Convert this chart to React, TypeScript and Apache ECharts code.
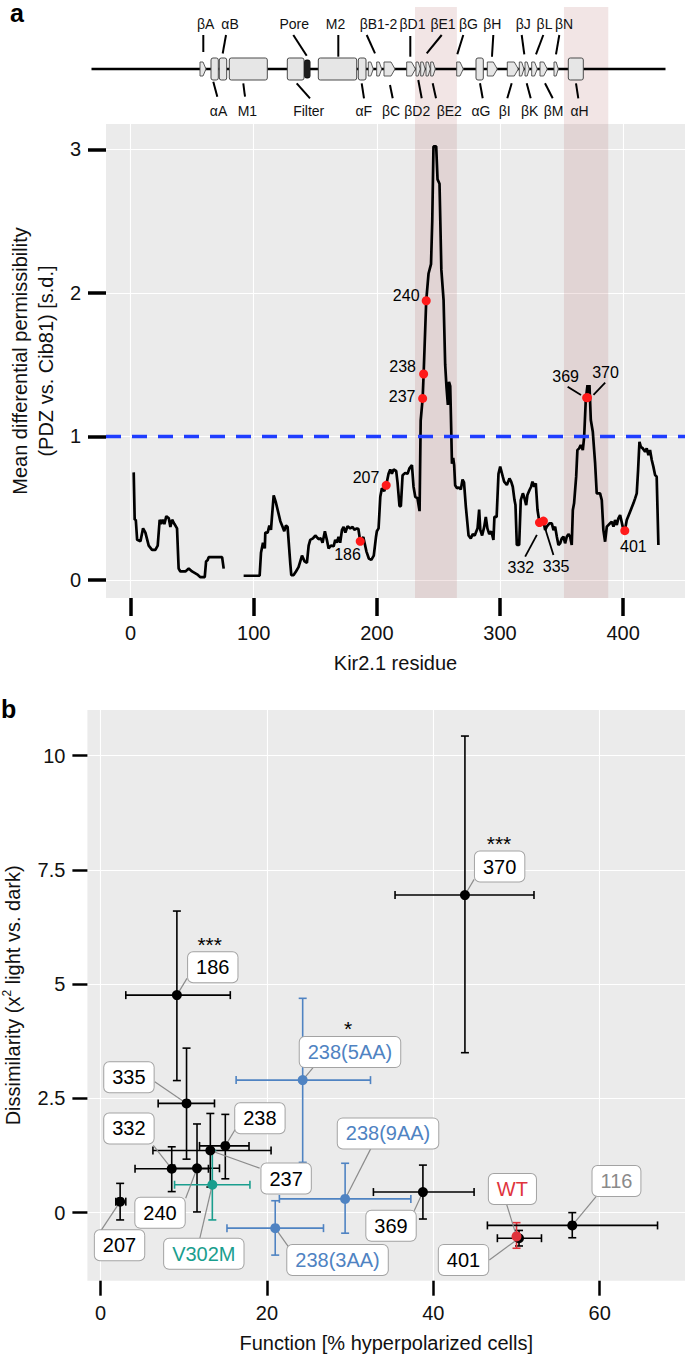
import React, { useEffect, useRef } from "react";
import * as echarts from "echarts";

const FONT = "'Liberation Sans', Arial, Helvetica, sans-serif";

// ---------------- Panel a data ----------------
// mean differential permissibility along Kir2.1 (residue, value), two contiguous stretches
const profileSeg1: number[][] = [
  [2.5, 0.75], [3.3, 0.42], [4.2, 0.42], [5.3, 0.28], [8, 0.27], [10.1, 0.36], [12, 0.33], [14.7, 0.24],
  [17.4, 0.21], [20.1, 0.21], [22, 0.24], [23.6, 0.42], [24.7, 0.39], [26, 0.42], [27.4, 0.39], [29, 0.445],
  [31, 0.43], [32.3, 0.37], [33.7, 0.42], [35.6, 0.39], [37.7, 0.36], [39, 0.08], [40.4, 0.06], [44.5, 0.06],
  [47.2, 0.08], [49.9, 0.06], [54, 0.04], [56.7, 0.02], [60.2, 0.02], [61.3, 0.13], [62.6, 0.14], [63.4, 0.16],
  [74.3, 0.16], [75.6, 0.08],
];
const profileSeg2: number[][] = [
  [91.8, 0.03], [104.8, 0.03], [105.9, 0.19], [107.5, 0.26], [109, 0.22], [109.4, 0.33], [111.3, 0.33],
  [112.7, 0.38], [114, 0.35], [114.8, 0.44], [116.2, 0.59], [118, 0.54], [119.4, 0.49], [121.6, 0.41],
  [123.5, 0.37], [124.8, 0.34], [126.2, 0.38], [127.5, 0.37], [129.7, 0.115], [130.5, 0.035], [132.4, 0.035],
  [134.3, 0.06], [136.4, 0.09], [139.2, 0.17], [141.3, 0.13], [143.2, 0.12], [144.6, 0.24], [145.9, 0.28],
  [148.1, 0.29], [150, 0.31], [152.7, 0.285], [154.6, 0.29], [155.9, 0.26], [157.8, 0.34], [159.4, 0.28],
  [160.8, 0.22], [162.7, 0.24], [164.9, 0.235], [166.2, 0.28], [167.5, 0.26], [168.9, 0.3], [170.2, 0.26],
  [171.7, 0.35], [173, 0.37], [174.4, 0.33], [176.2, 0.375], [178.4, 0.36], [180.3, 0.37], [181.7, 0.35],
  [183.8, 0.36], [185, 0.355], [186.5, 0.27], [189, 0.3], [191.5, 0.2], [193.5, 0.15], [195.5, 0.14],
  [197.5, 0.17], [199.3, 0.3], [200, 0.34], [201.4, 0.36], [202.8, 0.58], [204.1, 0.64], [206, 0.62],
  [207.6, 0.66], [209.5, 0.74], [210.9, 0.77], [212.2, 0.74], [213.6, 0.77], [215.7, 0.76], [216.8, 0.68],
  [218.4, 0.515], [219.5, 0.515], [220.9, 0.73], [223, 0.745], [224.9, 0.74], [226.6, 0.78], [228.5, 0.8],
  [229.8, 0.65], [231.2, 0.58], [233, 0.57], [234.7, 0.48], [235.6, 1.11], [237.2, 1.265], [238, 1.435],
  [240.1, 1.945], [242, 2.135], [244, 2.2], [245, 2.5], [246, 3.02], [248.2, 3.02], [249.3, 2.79],
  [250.9, 2.76], [252.4, 2.16], [254.2, 1.95], [255.5, 1.5], [256.6, 1.34], [257.7, 1.22], [258.6, 1.38],
  [259.6, 1.35], [260.4, 1.05], [261, 0.81], [262, 0.85], [262.8, 0.8], [263.6, 0.66], [265, 0.64],
  [267, 0.645], [268.2, 0.63], [269.6, 0.7], [270.8, 0.68], [272.3, 0.51], [274.5, 0.31], [276.3, 0.29],
  [277.9, 0.32], [279.5, 0.31], [281.8, 0.36], [283.1, 0.49], [284, 0.35], [285.5, 0.31], [287.2, 0.37],
  [288.5, 0.44], [289.8, 0.36], [291.3, 0.32], [293, 0.34], [294.7, 0.28], [295.5, 0.44], [297.3, 0.44],
  [298.8, 0.74], [300.2, 0.79], [302.3, 0.72], [303.4, 0.685], [305.6, 0.662], [307.7, 0.708], [309.1, 0.685],
  [310.4, 0.65], [311.8, 0.557], [312.6, 0.522], [313.7, 0.244], [315.6, 0.244], [316.9, 0.557], [318.6, 0.604],
  [319.6, 0.58], [321.3, 0.522], [322.3, 0.592], [324, 0.627], [325.3, 0.65], [326.4, 0.685], [327.8, 0.65],
  [329.1, 0.673], [330.5, 0.488], [332.1, 0.4], [334, 0.418], [335.3, 0.411], [336.7, 0.348], [338, 0.372],
  [340.2, 0.395], [342.1, 0.395], [343.5, 0.348], [344.8, 0.372], [346.2, 0.302], [347.5, 0.244], [348.9, 0.256],
  [350.2, 0.29], [351.6, 0.302], [352.9, 0.256], [354.3, 0.302], [355.6, 0.32], [357, 0.302], [358.3, 0.244],
  [359.2, 0.488], [360.2, 0.534], [361.9, 0.72], [362.9, 0.905], [364.3, 0.917], [365.6, 0.94], [367.3, 0.905],
  [368.4, 0.998], [369.7, 1.254], [371.1, 1.358], [371.9, 1.3], [372.7, 1.358], [373.8, 1.114], [375.4, 1.033],
  [376.5, 0.905], [377.3, 0.812], [378.6, 0.604], [381.3, 0.604], [382.7, 0.557], [384, 0.348], [385.4, 0.267],
  [386.8, 0.372], [389.5, 0.395], [390.8, 0.406], [392.2, 0.372], [393.5, 0.418], [394.9, 0.383], [396.2, 0.43],
  [397.6, 0.453], [399.7, 0.372], [401.4, 0.344], [403, 0.418], [405.7, 0.476], [408.4, 0.534], [409.8, 0.569],
  [411.1, 0.604], [412.2, 0.766], [413.3, 0.963], [414.4, 0.929], [416, 0.917], [417.9, 0.894], [419.2, 0.917],
  [420.6, 0.87], [421.9, 0.905], [423.3, 0.836], [424.6, 0.79], [426, 0.731], [427.3, 0.72], [428.7, 0.244],
];
const hotspotNames = ["186", "207", "237", "238", "240", "332", "335", "369", "370", "401"];
const hotspotX = [186.5, 207.6, 237.2, 238, 240.1, 332.1, 335.3, 370.4, 371.1, 401.4];
const hotspotY = [0.27, 0.66, 1.265, 1.435, 1.945, 0.4, 0.411, 1.27, 1.27, 0.344];
const shadedRanges = [[231, 265], [352, 388]];
const thresholdValue = 1;
const residueTicks = [0, 100, 200, 300, 400];
const permTicks = [0, 1, 2, 3];

// ---------------- Panel b data ----------------
const mutantNames = ["370", "186", "238(5AA)", "335", "238", "237", "332", "240", "V302M", "207", "238(3AA)", "238(9AA)", "369", "401", "WT", "116"];
const funcMean = [43.8, 9.18, 24.3, 10.34, 15.0, 13.2, 8.56, 11.6, 13.44, 2.36, 21.0, 29.4, 38.75, 50.3, 50.0, 56.7];
const funcLo = [35.4, 3.04, 16.3, 6.93, 11.9, 6.3, 4.15, 8.9, 8.9, 1.84, 15.2, 21.5, 32.8, 47.7, 50.0, 46.5];
const funcHi = [52.1, 15.6, 32.45, 13.7, 17.85, 20.5, 12.97, 14.3, 17.96, 3.04, 26.8, 37.3, 44.9, 53.0, 50.0, 66.95];
const dissMean = [6.95, 4.76, 2.9, 2.39, 1.46, 1.36, 0.96, 0.97, 0.61, 0.24, -0.34, 0.3, 0.45, -0.56, -0.52, -0.28];
const dissLo = [3.5, 2.89, 1.1, 1.17, 0.74, 0.56, 0.46, 0.015, -0.16, -0.16, -0.93, -0.45, -0.14, -0.73, -0.78, -0.55];
const dissHi = [10.43, 6.6, 4.69, 3.6, 2.15, 2.17, 1.44, 1.94, 1.36, 0.64, 0.26, 1.08, 1.04, -0.39, -0.22, 0.0];
// 0 black, 1 blue (238 variants), 2 teal (V302M), 3 red (WT)
const mutantGroup = [0, 0, 1, 0, 0, 0, 0, 0, 2, 0, 1, 1, 0, 0, 3, 0];
const significance = ["***", "***", "*", "", "", "", "", "", "", "", "", "", "", "", "", ""];
const functionTicks = [0, 20, 40, 60];
const dissTicks = [0, 2.5, 5, 7.5, 10];

// ---------------- styling / layout ----------------
const GROUP_COLORS = ["#000000", "#4f83c2", "#1a9e8e", "#e0343c"];
const SHADE = "rgba(185, 110, 110, 0.18)";
const GRID_A = { left: 106, top: 124, width: 579, height: 474 };
const GRID_B = { left: 87.4, top: 710, width: 597.6, height: 570.7 };

// label centre offsets (px) from each mark
const hotspotLabelOffset: number[][] = [
  [-12.7, 13.3], [-20.2, -8.2], [-20.5, -1.5], [-21, -7], [-20, -5],
  [-18.6, 44.6], [12.7, 45], [-21, -21], [18, -25], [8.6, 16],
];
// leader segments (px offsets from the mark: start dx, dy, end dx, dy); zero length = none
const hotspotLeader: number[][] = [
  [0, 0, 0, 0], [0, 0, 0, 0], [0, 0, 0, 0], [0, 0, 0, 0], [0, 0, 0, 0],
  [-2.6, 12.3, -14.3, 34], [1.7, 7.3, 10, 34], [-5.6, -2.7, -19, -11], [6, -2.7, 17.7, -15], [0, 0, 0, 0],
];
const mutantLabelOffset: number[][] = [
  [34.7, -28.5], [35.9, -27.8], [47.3, -28], [-57.6, -26.1], [34.6, -27.7], [75.8, 28.1], [-42.8, -40.3],
  [-37, 44.5], [-8.5, 69], [-0.6, 43.6], [62.3, 31.9], [42.9, -65.5], [-31.9, 33.7], [-55.5, 21.7],
  [-4.1, -47.4], [44.2, -44.5],
];
const mutantLeaderEnd: number[][] = [
  [9.2, -15.7], [10.1, -16.7], [11, -13.3], [-31.8, -21.6], [10, -16.7], [49.3, 17.6], [-18.4, -23.3],
  [-11.3, 30], [-12.7, 54.3], [-18.7, 28.3], [13.1, 18.4], [26.2, -51.3], [-8.7, 18.7], [-29.7, 21.7],
  [-10, -32.4], [24, -29],
];
const starOffset: Record<string, number[]> = { "370": [34.1, -52], "186": [32.8, -51], "238(5AA)": [45.5, -51.5] };

// domain schematic (pixel layout of the cartoon)
const helices: number[][] = [
  [211, 218.3], [219.3, 226.7], [229.3, 267.3], [287.3, 304], [318.3, 356.7], [358.3, 366], [476, 483.3], [568.3, 583.3],
];
const strands: number[][] = [
  [200, 206], [368.3, 373.3], [376.7, 381.7], [384, 395], [406.7, 415.5], [416, 420.3], [420.7, 425.2], [426, 430.3],
  [430.7, 435.3], [456.7, 463.3], [487.3, 497.3], [507.3, 518.3], [519.3, 524], [525, 529.3], [531.7, 537.3],
  [540, 547.3], [554, 558.3],
];
const topLabels: [string, number, number, number, number, number][] = [
  ["βA", 205.6, 203.3, 35, 203.3, 52], ["αB", 230, 226, 35, 222.7, 53.5], ["Pore", 294.3, 293.3, 35, 306.7, 55.7],
  ["M2", 335.6, 338.3, 35, 338.3, 56.7], ["βB1-2", 378.5, 366.7, 35, 375, 53.3], ["βD1", 412.5, 410.3, 36, 410.3, 56.7],
  ["βE1", 443, 441.7, 35, 426.7, 53.3], ["βG", 468.5, 463.3, 35, 457.3, 54.3], ["βH", 492.3, 493.3, 35, 492, 56.7],
  ["βJ", 523.3, 521.7, 35, 524.3, 54.3], ["βL", 544.5, 543.3, 35, 536, 54.3], ["βN", 564, 559.3, 35, 556, 54.3],
];
const bottomLabels: [string, number, number, number, number, number][] = [
  ["αA", 218.5, 213.3, 81.7, 217.3, 96.7], ["M1", 247.4, 243.3, 83.3, 245, 96.7], ["Filter", 308.7, 296.7, 83.3, 310, 98.3],
  ["αF", 363.8, 361.7, 83.3, 364, 98.3], ["βC", 391, 390, 85, 392.7, 98.3], ["βD2", 417.3, 418.3, 80, 421.7, 98.3],
  ["βE2", 449.3, 432.7, 83.3, 436, 98.3], ["αG", 481, 480, 83.3, 482.7, 98.3], ["βI", 504.8, 511.7, 83.3, 507.3, 98.3],
  ["βK", 529.6, 526.7, 83.3, 530.7, 98.3], ["βM", 553.6, 545, 83.3, 552.7, 98.3], ["αH", 579.6, 576, 83.3, 578.3, 98.3],
];

function labelColor(i: number) {
  if (mutantNames[i] === "116") return "#8a8a8a";
  return GROUP_COLORS[mutantGroup[i]];
}

function leaderRender(color: string, width: number) {
  return (params: any, api: any) => {
    const p = api.coord([api.value(0), api.value(1)]);
    const sx = api.value(2), sy = api.value(3), ex = api.value(4), ey = api.value(5);
    if (sx === ex && sy === ey) return { type: "group", children: [] };
    return {
      type: "line",
      shape: { x1: p[0] + sx, y1: p[1] + sy, x2: p[0] + ex, y2: p[1] + ey },
      style: { stroke: color, lineWidth: width },
    };
  };
}

function buildOption(): any {
  const tickText = { fontSize: 20, color: "#111", fontFamily: FONT };
  return {
    animation: false,
    backgroundColor: "#ffffff",
    textStyle: { fontFamily: FONT },
    grid: [
      { ...GRID_A, show: true, backgroundColor: "#EBEBEB", borderWidth: 0, containLabel: false, outerBoundsMode: "none" },
      { ...GRID_B, show: true, backgroundColor: "#EBEBEB", borderWidth: 0, containLabel: false, outerBoundsMode: "none" },
    ],
    xAxis: [
      {
        gridIndex: 0, type: "value", min: -20, max: 450.3, interval: 50,
        axisLine: { show: false, onZero: false },
        axisTick: { show: true, customValues: residueTicks, length: 18, lineStyle: { color: "#000", width: 3.5 } },
        axisLabel: { ...tickText, customValues: residueTicks, margin: 25 },
        splitLine: { show: true, lineStyle: { color: "#ffffff", width: 1.1 } },
        name: "Kir2.1 residue", nameLocation: "middle", nameGap: 55,
        nameTextStyle: { fontSize: 20, color: "#111", fontFamily: FONT },
      },
      {
        gridIndex: 1, type: "value", min: -1.575, max: 70.25, interval: 10,
        axisLine: { show: false, onZero: false },
        axisTick: { show: true, customValues: functionTicks, length: 15, lineStyle: { color: "#000", width: 2.5 } },
        axisLabel: { ...tickText, customValues: functionTicks, margin: 22 },
        splitLine: { show: true, lineStyle: { color: "#ffffff", width: 1.1 } },
        name: "Function [% hyperpolarized cells]", nameLocation: "middle", nameGap: 52,
        nameTextStyle: { fontSize: 20, color: "#111", fontFamily: FONT },
      },
    ],
    yAxis: [
      {
        gridIndex: 0, type: "value", min: -0.125, max: 3.176, interval: 0.5,
        axisLine: { show: false, onZero: false },
        axisTick: { show: true, customValues: permTicks, length: 18, lineStyle: { color: "#000", width: 3.5 } },
        axisLabel: { ...tickText, customValues: permTicks, margin: 25 },
        splitLine: { show: true, lineStyle: { color: "#ffffff", width: 1.1 } },
        name: "Mean differential permissibility\n(PDZ vs. Cib81) [s.d.]",
        nameLocation: "middle", nameGap: 47, nameRotate: 90,
        nameTextStyle: { fontSize: 20, lineHeight: 26, color: "#111", fontFamily: FONT, align: "center" },
      },
      {
        gridIndex: 1, type: "value", min: -1.49, max: 11.0, interval: 1.25,
        axisLine: { show: false, onZero: false },
        axisTick: { show: true, customValues: dissTicks, length: 15, lineStyle: { color: "#000", width: 2.5 } },
        axisLabel: { ...tickText, customValues: dissTicks, margin: 22 },
        splitLine: { show: true, lineStyle: { color: "#ffffff", width: 1.1 } },
        name: "{n|Dissimilarity (x}{s|2}{n| light vs. dark)}",
        nameLocation: "middle", nameGap: 62, nameRotate: 90,
        nameTextStyle: {
          fontFamily: FONT, color: "#111",
          rich: {
            n: { fontSize: 20, lineHeight: 24, color: "#111", fontFamily: FONT },
            s: { fontSize: 12, lineHeight: 24, verticalAlign: "top", color: "#111", fontFamily: FONT, padding: [0, 0, 8, 0] },
          },
        },
      },
    ],
    series: [
      {
        name: "profile-1", type: "line", xAxisIndex: 0, yAxisIndex: 0, data: profileSeg1,
        symbol: "none", showSymbol: false, z: 3,
        lineStyle: { color: "#000", width: 2.7 },
        markArea: {
          silent: true,
          itemStyle: { color: SHADE },
          data: shadedRanges.map(([a, b]) => [{ xAxis: a }, { xAxis: b }]),
        },
      },
      {
        name: "profile-2", type: "line", xAxisIndex: 0, yAxisIndex: 0, data: profileSeg2,
        symbol: "none", showSymbol: false, z: 3,
        lineStyle: { color: "#000", width: 2.7 },
        markLine: {
          silent: true, symbol: ["none", "none"], label: { show: false },
          lineStyle: { color: "#1f3dff", width: 3.3, type: [15, 11] },
          data: [{ yAxis: thresholdValue }],
        },
      },
      {
        name: "hotspot-leaders", type: "custom", xAxisIndex: 0, yAxisIndex: 0, z: 4, silent: true,
        data: hotspotNames.map((n, i) => [hotspotX[i], hotspotY[i], ...hotspotLeader[i]]),
        encode: { x: 0, y: 1 },
        renderItem: leaderRender("#000", 1.8),
      },
      {
        name: "hotspots", type: "scatter", xAxisIndex: 0, yAxisIndex: 0, z: 5,
        symbolSize: 9, itemStyle: { color: "#ff1a1a", opacity: 1 },
        data: hotspotNames.map((n, i) => ({ name: n, value: [hotspotX[i], hotspotY[i]] })),
        label: { show: true, position: "inside", formatter: "{b}", fontSize: 16, color: "#000", fontFamily: FONT, textBorderWidth: 0 },
        labelLayout: (p: any) => ({ dx: hotspotLabelOffset[p.dataIndex][0], dy: hotspotLabelOffset[p.dataIndex][1] }),
      },
      {
        name: "errorbars", type: "custom", xAxisIndex: 1, yAxisIndex: 1, z: 2,
        data: mutantNames.map((n, i) => [funcMean[i], dissMean[i], funcLo[i], funcHi[i], dissLo[i], dissHi[i], mutantGroup[i]]),
        encode: { x: 0, y: 1 },
        renderItem: (params: any, api: any) => {
          const x = api.value(0), y = api.value(1);
          const xl = api.value(2), xh = api.value(3), yl = api.value(4), yh = api.value(5);
          const color = GROUP_COLORS[api.value(6)];
          const st = { stroke: color, lineWidth: 1.6 };
          const c = 4;
          const L = (a: number[], b: number[]) => ({ type: "line", shape: { x1: a[0], y1: a[1], x2: b[0], y2: b[1] }, style: st });
          const kids: any[] = [];
          if (xh > xl) {
            const a = api.coord([xl, y]);
            const b = api.coord([xh, y]);
            kids.push(L(a, b), L([a[0], a[1] - c], [a[0], a[1] + c]), L([b[0], b[1] - c], [b[0], b[1] + c]));
          }
          if (yh > yl) {
            const a = api.coord([x, yl]);
            const b = api.coord([x, yh]);
            kids.push(L(a, b), L([a[0] - c, a[1]], [a[0] + c, a[1]]), L([b[0] - c, b[1]], [b[0] + c, b[1]]));
          }
          return { type: "group", children: kids };
        },
      },
      {
        name: "mutant-leaders", type: "custom", xAxisIndex: 1, yAxisIndex: 1, z: 3, silent: true,
        data: mutantNames.map((n, i) => [funcMean[i], dissMean[i], 0, 0, mutantLeaderEnd[i][0], mutantLeaderEnd[i][1]]),
        encode: { x: 0, y: 1 },
        renderItem: leaderRender("#8c8c8c", 1.2),
      },
      {
        name: "mutants", type: "scatter", xAxisIndex: 1, yAxisIndex: 1, z: 4,
        symbolSize: 10,
        data: mutantNames.map((n, i) => ({
          name: n, value: [funcMean[i], dissMean[i]],
          itemStyle: { color: GROUP_COLORS[mutantGroup[i]], opacity: 1 },
          label: { color: labelColor(i) },
        })),
        itemStyle: { opacity: 1 },
        label: {
          show: true, position: "inside", formatter: "{b}", fontSize: 20, fontFamily: FONT, lineHeight: 22,
          backgroundColor: "#ffffff", borderColor: "#a3a3a3", borderWidth: 1, borderRadius: 5,
          padding: [5, 8, 3, 8], textBorderWidth: 0,
        },
        labelLayout: (p: any) => ({ dx: mutantLabelOffset[p.dataIndex][0], dy: mutantLabelOffset[p.dataIndex][1] }),
      },
      {
        name: "significance", type: "scatter", xAxisIndex: 1, yAxisIndex: 1, z: 4, symbolSize: 0, silent: true,
        itemStyle: { opacity: 1 },
        data: mutantNames
          .map((n, i) => ({ n, i }))
          .filter((d) => significance[d.i] !== "")
          .map((d) => ({
            name: significance[d.i], value: [funcMean[d.i], dissMean[d.i]],
            label: { offset: starOffset[d.n] },
          })),
        label: { show: true, position: "inside", formatter: "{b}", fontSize: 21, lineHeight: 13, color: "#000", fontFamily: FONT, textBorderWidth: 0 },
      },
    ],
  };
}

function buildGraphics(chart: any): any[] {
  const els: any[] = [];
  // shading continues above the plot over the schematic
  shadedRanges.forEach(([a, b]) => {
    const x0 = chart.convertToPixel({ xAxisIndex: 0 }, a) as number;
    const x1 = chart.convertToPixel({ xAxisIndex: 0 }, b) as number;
    els.push({ type: "rect", silent: true, shape: { x: x0, y: 7, width: x1 - x0, height: GRID_A.top - 7 }, style: { fill: SHADE } });
  });
  // backbone
  els.push({ type: "line", silent: true, shape: { x1: 91.5, y1: 69, x2: 665.5, y2: 69 }, style: { stroke: "#000", lineWidth: 2.6 } });
  // helices
  helices.forEach(([x0, x1]) => {
    els.push({ type: "rect", silent: true, shape: { x: x0, y: 58, width: x1 - x0, height: 22, r: 2 }, style: { fill: "#e6e6e6", stroke: "#4a4a4a", lineWidth: 1 } });
  });
  // strands (arrows)
  strands.forEach(([x0, x1]) => {
    const tip = Math.min(4, (x1 - x0) / 2);
    els.push({
      type: "polygon", silent: true,
      shape: { points: [[x0, 62], [x1 - tip, 62], [x1, 69], [x1 - tip, 76], [x0, 76]] },
      style: { fill: "#e6e6e6", stroke: "#4a4a4a", lineWidth: 0.9 },
    });
  });
  // selectivity filter coil
  els.push({ type: "rect", silent: true, shape: { x: 304, y: 59.5, width: 6.5, height: 19, r: 3 }, style: { fill: "#111" } });
  for (let k = 0; k < 3; k++) {
    els.push({ type: "line", silent: true, shape: { x1: 305 + k * 2, y1: 61, x2: 305 + k * 2, y2: 77 }, style: { stroke: "#444", lineWidth: 0.5 } });
  }
  const addLabel = (t: string, cx: number, cy: number, lx1: number, ly1: number, lx2: number, ly2: number) => {
    els.push({ type: "line", silent: true, shape: { x1: lx1, y1: ly1, x2: lx2, y2: ly2 }, style: { stroke: "#000", lineWidth: 2 } });
    els.push({
      type: "text", silent: true,
      style: { text: t, x: cx, y: cy, fill: "#111", fontSize: 14, fontFamily: FONT, textAlign: "center", textVerticalAlign: "middle", align: "center", verticalAlign: "middle" },
    });
  };
  topLabels.forEach(([t, cx, a, b, c, d]) => addLabel(t, cx, 24, a, b, c, d));
  bottomLabels.forEach(([t, cx, a, b, c, d]) => addLabel(t, cx, 111, a, b, c, d));
  // panel letters
  els.push({ type: "text", silent: true, style: { text: "a", x: 10, y: 0, fill: "#000", font: `bold 25px ${FONT}`, textVerticalAlign: "top", verticalAlign: "top" } });
  els.push({ type: "text", silent: true, style: { text: "b", x: 1, y: 696, fill: "#000", font: `bold 25px ${FONT}`, textVerticalAlign: "top", verticalAlign: "top" } });
  return els;
}

export default function App() {
  const ref = useRef<HTMLDivElement | null>(null);
  useEffect(() => {
    document.body.style.margin = "0";
    const el = ref.current;
    if (!el) return;
    const chart = echarts.init(el, null, { renderer: "svg" });
    chart.setOption(buildOption());
    chart.setOption({ graphic: buildGraphics(chart) });
    return () => chart.dispose();
  }, []);
  return <div ref={ref} style={{ position: "absolute", left: 0, top: 0, width: 685, height: 1355 }} />;
}
